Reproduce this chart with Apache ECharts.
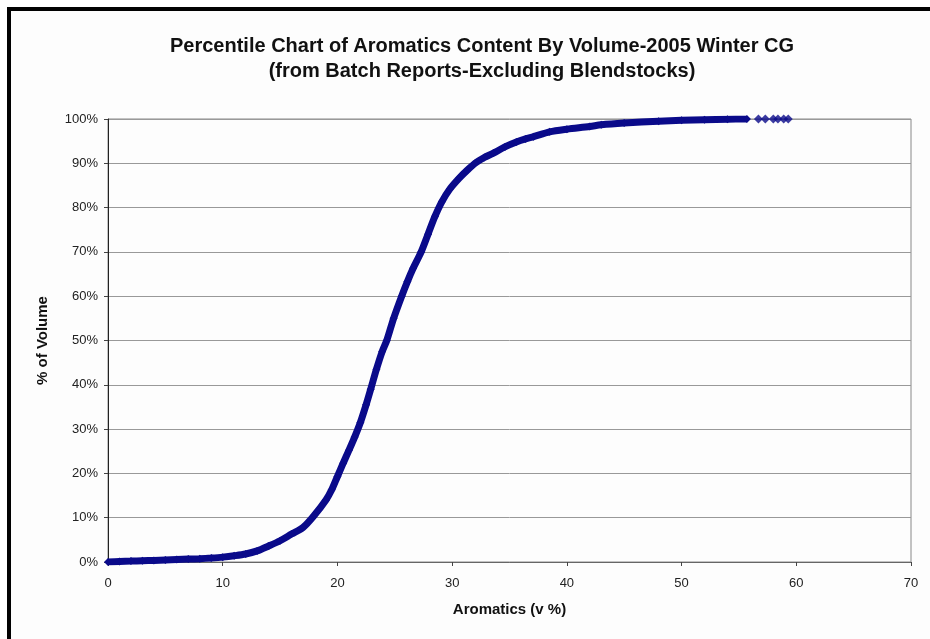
<!DOCTYPE html>
<html>
<head>
<meta charset="utf-8">
<script src="https://cdn.jsdelivr.net/npm/echarts@6/dist/echarts.min.js"></script>
<style>
html,body{margin:0;padding:0;background:#fdfdfd;}
#chart{width:930px;height:639px;}
</style>
</head>
<body>
<div id="chart"></div>
<script>
// Aromatics content (v %) and cumulative % of volume
var aromatics = [0, 1, 2, 3, 4, 5, 6, 7, 8, 9, 10, 11, 12, 13, 14, 15, 16, 17, 18, 19, 19.5, 20, 20.5, 21, 21.5, 22.0, 22.5, 22.9, 23.4, 23.9, 24.3, 24.9, 25.6, 26.1, 26.6, 27.3, 27.9, 28.5, 29.1, 29.8, 30.6, 31.3, 32.0, 32.8, 33.6, 34.6, 35.6, 36.4, 37.1, 38.5, 40, 42, 43, 45, 48, 50, 52, 54, 55.7];
var volumePct = [0, 0.1, 0.2, 0.3, 0.35, 0.45, 0.55, 0.65, 0.75, 0.9, 1.1, 1.4, 1.8, 2.5, 3.6, 4.8, 6.3, 7.8, 10.6, 14, 16.3, 19.3, 22.3, 25.2, 28.2, 31.5, 35.5, 39, 43.5, 47.5, 50, 55, 60, 63.3, 66.3, 70, 74, 78, 81.3, 84.2, 86.6, 88.4, 90.0, 91.3, 92.3, 93.7, 94.8, 95.5, 96, 97.1, 97.7, 98.3, 98.7, 99.1, 99.5, 99.7, 99.85, 99.95, 100];
// sparse tail batches
var tailAromatics = [56.7, 57.3, 58.0, 58.4, 58.9, 59.3];
var tailVolumePct = [100, 100, 100, 100, 100, 100];
var xTicks = [0, 10, 20, 30, 40, 50, 60, 70];
var yTicks = [0, 10, 20, 30, 40, 50, 60, 70, 80, 90, 100];

var mainData = aromatics.map(function(v, i){ return [v, volumePct[i]]; });
var tailData = tailAromatics.map(function(v, i){ return [v, tailVolumePct[i]]; });

var chart = echarts.init(document.getElementById('chart'));
var navy = '#0a0a8a';
var font = 'Liberation Sans, Arial';
chart.setOption({
  animation: false,
  backgroundColor: '#fdfdfd',
  title: {
    text: 'Percentile Chart of Aromatics Content By Volume-2005 Winter CG\n(from Batch Reports-Excluding Blendstocks)',
    left: 477, top: 29, textAlign: 'center',
    textStyle: {fontFamily: font, fontWeight: 'bold', fontSize: 20, lineHeight: 25, color: '#111'}
  },
  grid: {left: 108, right: 19, top: 119, bottom: 77, show: true, borderColor: '#888', borderWidth: 1, backgroundColor: 'transparent'},
  xAxis: {
    type: 'value', min: xTicks[0], max: xTicks[xTicks.length-1], interval: 10,
    name: 'Aromatics (v %)', nameLocation: 'middle', nameGap: 40,
    nameTextStyle: {fontFamily: font, fontWeight: 'bold', fontSize: 15, color: '#111'},
    axisLine: {show: true, lineStyle: {color: '#666', width: 1}},
    axisTick: {show: true, inside: false, length: 4, lineStyle: {color: '#444'}},
    axisLabel: {fontFamily: font, fontSize: 13, color: '#222', margin: 15},
    splitLine: {show: false}
  },
  yAxis: {
    type: 'value', min: yTicks[0], max: yTicks[yTicks.length-1], interval: 10,
    name: '% of Volume', nameLocation: 'middle', nameGap: 58, nameRotate: 90,
    nameTextStyle: {fontFamily: font, fontWeight: 'bold', fontSize: 15, color: '#111'},
    axisLine: {show: true, lineStyle: {color: '#222', width: 1}},
    axisTick: {show: true, length: 4, lineStyle: {color: '#444'}},
    axisLabel: {fontFamily: font, fontSize: 13, color: '#222', margin: 10, formatter: '{value}%'},
    splitLine: {show: true, lineStyle: {color: '#999', width: 1}}
  },
  series: [
    {
      type: 'line', data: mainData, smooth: 0.3,
      symbol: 'diamond', symbolSize: 8, showSymbol: true,
      lineStyle: {color: navy, width: 7},
      itemStyle: {color: navy}
    },
    {
      type: 'scatter', data: tailData,
      symbol: 'diamond', symbolSize: 9,
      itemStyle: {color: navy}
    }
  ],
  graphic: [
    {type: 'rect', left: 7, top: 7, shape: {width: 923, height: 4}, style: {fill: '#000'}},
    {type: 'rect', left: 7, top: 7, shape: {width: 4, height: 632}, style: {fill: '#000'}}
  ]
});
</script>
</body>
</html>
